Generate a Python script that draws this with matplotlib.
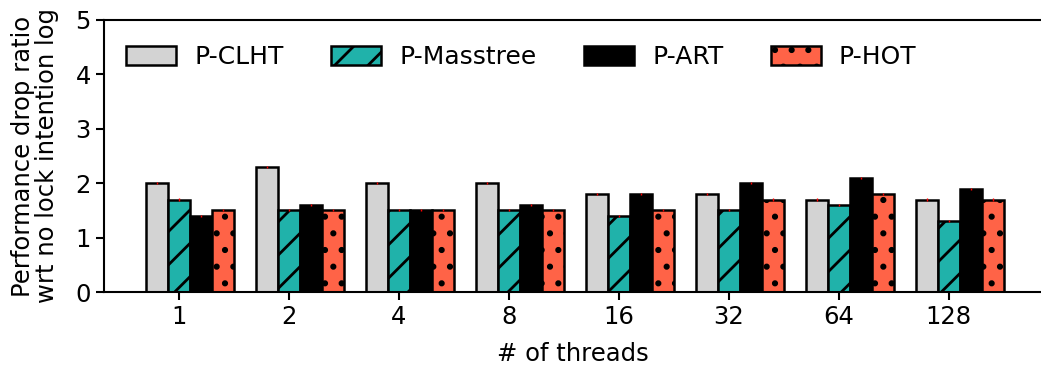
import matplotlib
matplotlib.use("Agg")
import matplotlib.pyplot as plt
import numpy as np

threads = ['1', '2', '4', '8', '16', '32', '64', '128']
clht = [2.0, 2.3, 2.0, 2.0, 1.8, 1.8, 1.7, 1.7]
masstree = [1.7, 1.5, 1.5, 1.5, 1.4, 1.5, 1.6, 1.3]
art = [1.4, 1.6, 1.5, 1.6, 1.8, 2.0, 2.1, 1.9]
hot = [1.5, 1.5, 1.5, 1.5, 1.5, 1.7, 1.8, 1.7]
err = [0.02] * 8

plt.rcParams['hatch.linewidth'] = 2.0
fig = plt.figure(figsize=(10.41, 3.68), dpi=100)
ax = fig.add_axes([0.0999, 0.2065, 0.9001, 0.7392])

x = np.arange(len(threads))
w = 0.2
kw = dict(edgecolor='black', linewidth=1.8, yerr=err, ecolor='red',
          error_kw=dict(elinewidth=1))
ax.bar(x - w, clht, w, color='lightgray', label='P-CLHT', **kw)
ax.bar(x, masstree, w, color='lightseagreen', hatch='/', label='P-Masstree', **kw)
ax.bar(x + w, art, w, color='black', label='P-ART', **kw)
ax.bar(x + 2 * w, hot, w, color='tomato', hatch='.', label='P-HOT', **kw)

ax.set_ylim(0, 5)
ax.set_xlim(-0.68, 7.84)
ax.set_xticks(x)
ax.set_xticklabels(threads)
ax.tick_params(labelsize=17.5, width=1.5, length=6)
ax.spines['right'].set_visible(False)
for s in ['left', 'bottom', 'top']:
    ax.spines[s].set_linewidth(1.5)
ax.set_xlabel('# of threads', fontsize=17.5, labelpad=9)
ax.set_ylabel('Performance drop ratio\nwrt no lock intention log', fontsize=17.5,
              linespacing=1.0, labelpad=12)

ax.legend(loc='upper left', ncol=4, frameon=False, fontsize=18,
          handlelength=2.0, handleheight=0.8, handletextpad=0.72,
          columnspacing=1.9, bbox_to_anchor=(0.0, 0.99))

plt.savefig('out.png', dpi=100)
